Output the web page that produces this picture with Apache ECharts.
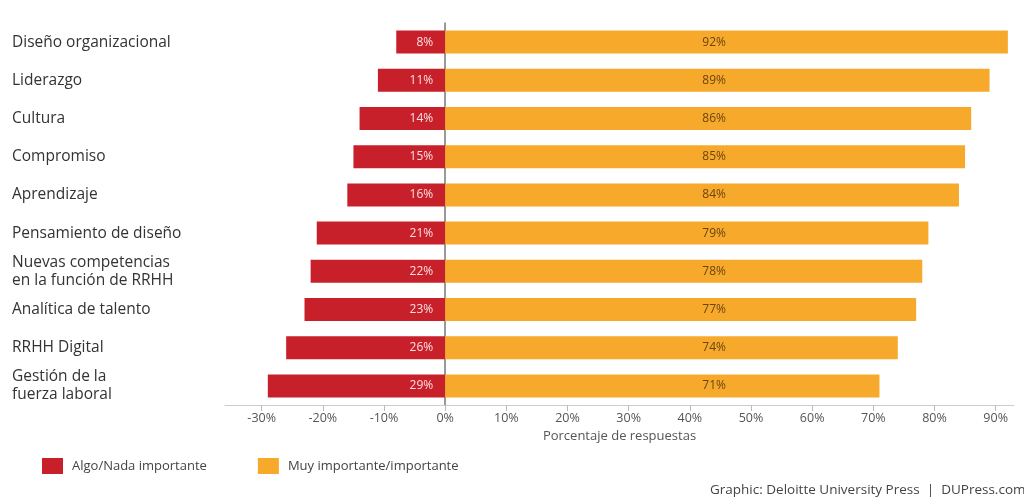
<!DOCTYPE html>
<html>
<head>
<meta charset="utf-8">
<script src="https://cdn.jsdelivr.net/npm/echarts@6/dist/echarts.min.js"></script>
<style>html,body{margin:0;padding:0;background:#fff}#c{width:1024px;height:497px}</style>
</head>
<body>
<div id="c"></div>
<script>
const categories = ["Diseño organizacional","Liderazgo","Cultura","Compromiso","Aprendizaje","Pensamiento de diseño","Nuevas competencias\nen la función de RRHH","Analítica de talento","RRHH Digital","Gestión de la\nfuerza laboral"];
const algoNada = [8, 11, 14, 15, 16, 21, 22, 23, 26, 29];
const muyImportante = [92, 89, 86, 85, 84, 79, 78, 77, 74, 71];
const tickValues = [-30,-20,-10,0,10,20,30,40,50,60,70,80,90];

const chart = echarts.init(document.getElementById('c'));
chart.setOption({
  animation: false,
  textStyle: {fontFamily: 'Open Sans'},
  grid: {left: 225, right: 10, top: 23, height: 382},
  legend: {
    left: 37, top: 453, icon: 'rect', itemWidth: 21, itemHeight: 16, itemGap: 51, padding: 5,
    textStyle: {fontSize: 13, color: '#444', fontFamily: 'Open Sans', padding: [0, 0, 0, 4]},
    data: ['Algo/Nada importante','Muy importante/importante']
  },
  xAxis: {
    type: 'value', min: -36, max: 93,
    name: 'Porcentaje de respuestas', nameLocation: 'middle', nameGap: 24,
    nameTextStyle: {fontSize: 13, color: '#555'},
    axisLine: {show: true, lineStyle: {color: '#ccc'}},
    axisTick: {show: true, customValues: tickValues, length: 6, lineStyle: {color: '#bbb'}},
    axisLabel: {customValues: tickValues, formatter: v => v + '%', fontSize: 12.5, color: '#555', margin: 7},
    splitLine: {show: false}
  },
  yAxis: {
    type: 'category', data: categories, inverse: true,
    axisLine: {show: true, onZero: true, lineStyle: {color: '#777', width: 1.5}},
    axisTick: {show: false},
    axisLabel: {align: 'left', margin: 213, fontSize: 15.5, color: '#333', lineHeight: 18}
  },
  series: [
    {
      name: 'Algo/Nada importante', type: 'bar', stack: 'total', barWidth: 23,
      itemStyle: {color: '#C8202A'},
      data: algoNada.map(v => -v),
      label: {show: true, position: 'insideRight', distance: 12, formatter: p => (-p.value) + '%', color: '#fbe0e0', fontSize: 12}
    },
    {
      name: 'Muy importante/importante', type: 'bar', stack: 'total', barWidth: 23,
      itemStyle: {color: '#F6A92A'},
      data: muyImportante,
      label: {show: true, position: [269, '50%'], align: 'center', verticalAlign: 'middle', formatter: p => p.value + '%', color: '#6a4510', fontSize: 12}
    }
  ],
  graphic: [
    {type: 'text', left: 710, top: 483, style: {text: 'Graphic: Deloitte University Press  |  DUPress.com', fontSize: 13.5, fill: '#444', fontFamily: 'Open Sans'}}
  ]
});
</script>
</body>
</html>
